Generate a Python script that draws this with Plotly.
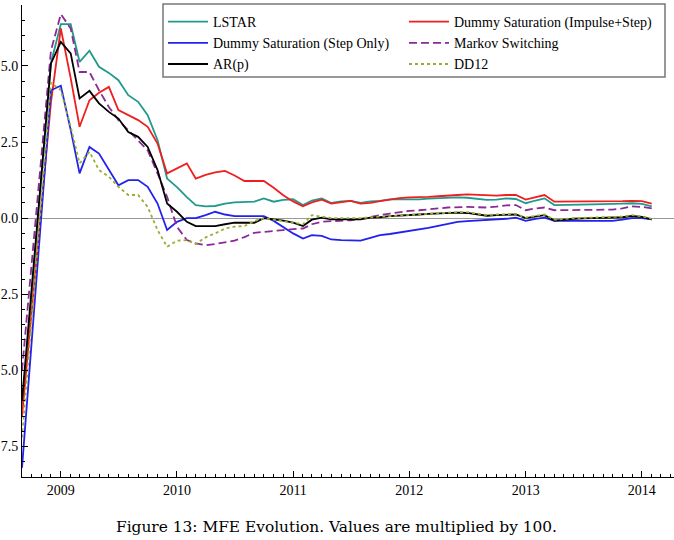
import pandas as pd
import plotly.graph_objects as go

# ---- data ----
dates = ["2008-09-01", "2008-12-01"] + [d.strftime("%Y-%m-%d") for d in pd.date_range("2009-01-01", "2014-02-01", freq="MS")]

lstar = [-6.3, 5.1,
         6.37, 6.37, 5.13, 5.5, 4.97, 4.77, 4.53, 4.04, 3.82, 3.38,
         2.56, 1.3, 1.02, 0.69, 0.43, 0.39, 0.40, 0.48, 0.52, 0.53,
         0.54, 0.65, 0.54, 0.60, 0.62, 0.43, 0.58, 0.65, 0.5, 0.55,
         0.57, 0.50, 0.55, 0.57, 0.62, 0.62, 0.61, 0.62, 0.64, 0.65,
         0.68, 0.68, 0.67, 0.64, 0.6, 0.61, 0.65, 0.63, 0.49, 0.58,
         0.65, 0.43, 0.43, 0.44, 0.45, 0.45, 0.46, 0.46, 0.48, 0.49,
         0.47, 0.39]
ds_impulse_step = [-6.5, 3.8,
         6.23, 4.6, 3.0, 3.87, 4.12, 4.31, 3.55, 3.38, 3.22, 3.0,
         2.45, 1.47, 1.63, 1.8, 1.3, 1.42, 1.5, 1.55, 1.4, 1.22,
         1.22, 1.22, 1.0, 0.75, 0.55, 0.39, 0.52, 0.61, 0.48, 0.52,
         0.57, 0.48, 0.50, 0.56, 0.62, 0.66, 0.68, 0.68, 0.70, 0.72,
         0.73, 0.76, 0.78, 0.77, 0.74, 0.74, 0.76, 0.76, 0.61, 0.70,
         0.76, 0.54, 0.54, 0.54, 0.55, 0.55, 0.55, 0.54, 0.56, 0.57,
         0.56, 0.48]
ds_step = [-8.2, 4.2,
         4.35, 2.9, 1.47, 2.34, 2.12, 1.58, 1.08, 1.25, 1.25, 1.03,
         0.48, -0.39, -0.12, 0.0, 0.0, 0.1, 0.21, 0.12, 0.07, 0.07,
         0.07, 0.07, -0.09, -0.3, -0.5, -0.67, -0.56, -0.58, -0.70, -0.72,
         -0.73, -0.74, -0.65, -0.56, -0.52, -0.47, -0.42, -0.39, -0.32, -0.25,
         -0.18, -0.12, -0.10, -0.08, -0.07, -0.05, -0.02, 0.02, -0.09, -0.02,
         0.02, -0.09, -0.09, -0.09, -0.09, -0.09, -0.09, -0.09, -0.05, 0.0,
         0.0, -0.04]
markov = [-5.0, 5.5,
         6.7, 6.23, 4.8, 4.8, 4.2, 3.65, 3.22, 2.89, 2.56, 2.23,
         1.47, 0.7, -0.28, -0.72, -0.83, -0.89, -0.85, -0.80, -0.74, -0.62,
         -0.48, -0.45, -0.41, -0.39, -0.36, -0.34, -0.2, -0.12, -0.1, -0.08,
         -0.07, -0.02, 0.05, 0.1, 0.15, 0.2, 0.24, 0.26, 0.28, 0.32,
         0.35, 0.37, 0.37, 0.36, 0.35, 0.38, 0.42, 0.43, 0.26, 0.32,
         0.35, 0.26, 0.26, 0.27, 0.27, 0.28, 0.28, 0.28, 0.32, 0.39,
         0.37, 0.32]
ar_p = [-6.0, 5.08,
         5.79, 5.41, 3.93, 4.18, 3.77, 3.49, 3.27, 2.83, 2.67, 2.34,
         1.58, 0.48, 0.21, -0.12, -0.26, -0.26, -0.26, -0.2, -0.15, -0.15,
         -0.15, 0.0, -0.04, -0.08, -0.15, -0.26, -0.05, 0.02, -0.04, -0.04,
         -0.04, -0.04, 0.02, 0.03, 0.07, 0.08, 0.1, 0.12, 0.14, 0.16,
         0.18, 0.18, 0.17, 0.12, 0.08, 0.10, 0.12, 0.12, 0.0, 0.06,
         0.1, -0.08, -0.04, -0.02, -0.01, 0.0, 0.0, 0.0, 0.03, 0.07,
         0.04, -0.04]
dd12 = [-7.2, 4.45,
         4.2, 3.0, 1.8, 2.18, 1.58, 1.36, 1.03, 0.76, 0.76, 0.37,
         -0.39, -0.94, -0.74, -0.72, -0.85, -0.63, -0.5, -0.34, -0.28, -0.26,
         -0.1, 0.0, -0.05, -0.09, -0.15, -0.2, 0.1, 0.05, 0.0, 0.0,
         0.0, 0.0, 0.03, 0.05, 0.07, 0.1, 0.12, 0.13, 0.15, 0.18,
         0.2, 0.2, 0.2, 0.15, 0.1, 0.12, 0.14, 0.14, 0.02, 0.08,
         0.12, -0.05, -0.02, 0.0, 0.01, 0.02, 0.02, 0.02, 0.05, 0.1,
         0.06, -0.02]

# name, values, colour, dash, legend column
series = [
    ("LSTAR", lstar, "#1f9a8c", "solid", "legend"),
    ("Dummy Saturation (Impulse+Step)", ds_impulse_step, "#f01e1e", "solid", "legend2"),
    ("Dummy Saturation (Step Only)", ds_step, "#2222ee", "solid", "legend"),
    ("Markov Switching", markov, "#8a2a96", "8px,4px", "legend2"),
    ("AR(p)", ar_p, "#000000", "solid", "legend"),
    ("DD12", dd12, "#9aae2e", "dot", "legend2"),
]

fig = go.Figure()
for name, vals, color, dash, lg in series:
    fig.add_trace(go.Scatter(x=dates, y=vals, mode="lines", name=name, legend=lg,
                             line=dict(color=color, width=1.8, dash=dash)))

fnt = "Liberation Serif"
L, T, B, W, H = 22, 5, 63, 674, 540
pw, ph = W - L, H - T - B


def px_x(p):
    return (p - L) / pw


def px_y(p):
    return (H - B - p) / ph


leg_common = dict(orientation="v", yanchor="top", xanchor="left",
                  bgcolor="rgba(0,0,0,0)", borderwidth=0,
                  font=dict(family=fnt, size=14, color="black"),
                  itemwidth=40, tracegroupgap=0)

fig.update_layout(
    width=W, height=H,
    margin=dict(l=L, r=0, t=T, b=B),
    plot_bgcolor="white", paper_bgcolor="white",
    font=dict(family=fnt, size=13, color="black"),
    showlegend=True,
    legend=dict(x=px_x(163), y=px_y(6), **leg_common),
    legend2=dict(x=px_x(404), y=px_y(6), **leg_common),
)
# legend frame
fig.add_shape(type="rect", xref="paper", yref="paper",
              x0=px_x(163), x1=px_x(665), y0=px_y(77), y1=px_y(4),
              line=dict(color="#777777", width=1.5), fillcolor="white", layer="above")

fig.update_xaxes(
    type="date", range=["2008-09-01", "2014-04-12"], automargin=False,
    tick0="2009-01-01", dtick="M12", tickformat="%Y",
    ticks="inside", ticklen=6, tickcolor="black",
    showline=True, linecolor="black", linewidth=1,
    showgrid=False, zeroline=False,
    tickfont=dict(family=fnt, size=14, color="black"),
    minor=dict(dtick="M1", ticks="inside", ticklen=3, tickcolor="black", showgrid=False),
)
fig.update_yaxes(
    range=[-8.5, 7.0], dtick=2.5, tick0=0, tickformat=".1f", automargin=False,
    ticks="inside", ticklen=6, tickcolor="black",
    showline=True, linecolor="black", linewidth=1,
    showgrid=False,
    zeroline=True, zerolinecolor="#999999", zerolinewidth=1,
    tickfont=dict(family=fnt, size=14, color="black"),
    minor=dict(dtick=0.5, ticks="inside", ticklen=3, tickcolor="black", showgrid=False),
)
fig.add_annotation(text="Figure 13: MFE Evolution. Values are multiplied by 100.",
                   x=px_x(336), y=px_y(527), xref="paper", yref="paper",
                   xanchor="center", yanchor="middle", showarrow=False,
                   font=dict(family="DejaVu Serif", size=15.4, color="black"))

fig.write_html("out.html")
